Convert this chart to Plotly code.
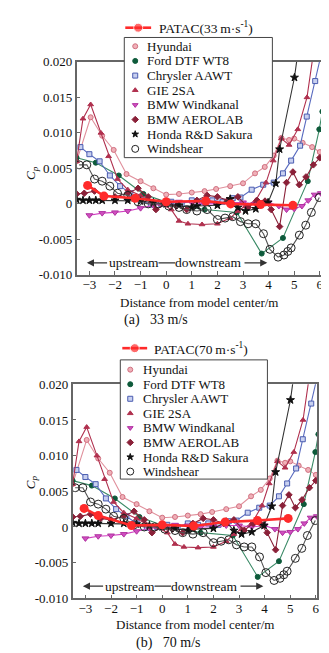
import plotly.graph_objects as go

W, H = 329, 653

# ---------------- data ----------------
patac_a_x = [-3.07, -2.43, -1.21, 0.0, 1.55, 2.52, 3.69, 4.95]
patac_a_y = [0.0026, 0.0011, 0.0008, 0.0003, 0.0004, 0.0, -0.0001, -0.0002]
patac_b_x = [-3.05, -2.5, -1.2, 0.0, 1.23, 2.46, 3.72, 4.92]
patac_b_y = [0.0026, 0.0016, 0.0002, 0.0003, 0.00014, 0.0007, 0.0009, 0.0012]

hyundai_x = [-3.5, -2.95, -2.5, -2.05, -1.55, -1.0, -0.5, 0.0, 0.5, 1.0, 1.5, 1.95, 2.5, 3.0, 3.47, 3.85, 4.2, 4.5, 4.8, 5.0, 5.33, 5.7, 6.0]
hyundai_y = [0.006, 0.0122, 0.0096, 0.0076, 0.0042, 0.0032, 0.0022, 0.0013, 0.0014, 0.0016, 0.0018, 0.0021, 0.0025, 0.0029, 0.0043, 0.0052, 0.0068, 0.0093, 0.009, 0.0092, 0.0086, 0.008, 0.0073]

ford_x = [-3.5, -2.75, -1.85, -0.89, 0.2, 1.5, 2.76, 3.73, 4.56, 5.53, 5.98, 6.1]
ford_y = [0.0065, 0.0058, 0.004, 0.0014, 0.0, -0.0008, -0.0012, -0.007, -0.0048, 0.0032, 0.0105, 0.013]

chrysler_x = [-3.35, -3.0, -2.6, -2.2, -1.8, -1.4, -1.0, -0.6, -0.2, 0.2, 0.6, 1.0, 1.4, 1.8, 2.2, 2.6, 2.9, 3.34, 3.79, 4.2, 4.56, 4.88, 5.23, 5.49, 5.82, 6.05]
chrysler_y = [0.008, 0.007, 0.006, 0.004, 0.0025, 0.0015, 0.0005, -0.0001, 0.0, 0.0003, 0.0, 0.0005, 0.0003, 0.0005, 0.0003, 0.0008, 0.0009, 0.002, 0.0027, 0.003, 0.0043, 0.0061, 0.0082, 0.0123, 0.0173, 0.021]

gie_x = [-3.5, -3.25, -2.95, -2.55, -2.25, -1.9, -1.5, -1.0, -0.6, -0.2, 0.2, 0.5, 0.85, 1.4, 2.0, 2.5, 2.8, 3.1, 3.5, 3.9, 4.18, 4.5, 4.8, 5.14, 5.5, 5.72]
gie_y = [0.006, 0.012, 0.014, 0.010, 0.0067, 0.0035, 0.002, 0.0012, 0.0003, 0.0, -0.0008, -0.0024, -0.0028, -0.0029, -0.0028, -0.002, -0.001, -0.0003, 0.0005, 0.003, 0.0061, 0.0092, 0.0083, 0.0105, 0.015, 0.0205]

windkanal_x = [-3.0, -2.5, -2.0, -1.5, -1.0, -0.5, 0.0, 0.5, 1.0, 1.5, 2.0, 2.5, 3.0, 3.5, 4.0, 4.4, 4.7, 5.0, 5.3, 5.55, 5.8, 6.04]
windkanal_y = [-0.0016, -0.0013, -0.0012, -0.001, -0.0006, -0.0002, 0.0, 0.0003, 0.0002, 0.0, 0.0, 0.0002, 0.0002, 0.0, 0.0002, -0.0003, -0.0008, -0.0007, -0.0003, 0.0005, 0.0013, 0.0015]

aerolab_x = [-3.5, -3.2, -2.8, -2.4, -2.0, -1.5, -1.1, -0.7, -0.4, 0.0, 0.4, 0.8, 1.2, 1.6, 2.0, 2.4, 2.8, 3.2, 3.55, 3.86, 4.1, 4.43, 4.7, 4.95, 5.2, 5.46, 5.75, 6.0]
aerolab_y = [0.0014, 0.0015, 0.0018, 0.0012, 0.001, 0.0015, 0.0022, 0.001, -0.0008, 0.0, -0.0003, -0.0008, 0.0005, 0.0012, 0.001, 0.0005, 0.001, -0.0005, 0.0005, 0.0004, -0.0008, -0.0032, 0.003, 0.0045, 0.0027, 0.0038, 0.0055, 0.0065]

honda_x = [-3.5, -3.25, -3.0, -2.75, -2.5, -2.0, -1.5, -1.0, -0.5, 0.0, 0.5, 1.0, 1.2, 2.0, 2.5, 2.8, 3.1, 3.5, 3.98, 4.28, 4.43, 5.01, 5.15]
honda_y = [0.0006, 0.0005, 0.0005, 0.0005, 0.0005, 0.0005, 0.0005, 0.0004, 0.0002, 0.0, -0.0002, -0.0005, -0.0003, -0.0002, 0.0007, -0.0005, -0.001, -0.0007, 0.0002, 0.0029, 0.0077, 0.0178, 0.0215]

windshear_x = [-3.4, -3.1, -2.8, -2.5, -2.2, -1.9, -1.5, -1.1, -0.7, -0.3, 0.1, 0.5, 0.8, 1.2, 1.6, 2.0, 2.3, 2.6, 2.9, 3.2, 3.5, 3.8, 4.05, 4.37, 4.6, 4.75, 4.88, 5.2, 5.45, 5.67, 5.98]
windshear_y = [0.0055, 0.0055, 0.0035, 0.0032, 0.0025, 0.0015, 0.0012, 0.0003, 0.0, 0.0, -0.0003, -0.0005, -0.0008, -0.001, -0.0008, -0.0022, -0.002, -0.0018, -0.0025, -0.0028, -0.0028, -0.0042, -0.0064, -0.0075, -0.0072, -0.0067, -0.0062, -0.0044, -0.003, -0.0012, 0.0009]

x_ticks = [-3, -2, -1, 0, 1, 2, 3, 4, 5, 6]
y_ticks = [-0.010, -0.005, 0.0, 0.005, 0.010, 0.015, 0.020]
y_ticktext = ["-0.010", "-0.005", "0", "0.005", "0.010", "0.015", "0.020"]

series_names = ["Hyundai", "Ford DTF WT8", "Chrysler AAWT", "GIE 2SA",
                "BMW Windkanal", "BMW AEROLAB", "Honda R&D Sakura", "Windshear"]
series_x = [hyundai_x, ford_x, chrysler_x, gie_x, windkanal_x, aerolab_x, honda_x, windshear_x]
series_y = [hyundai_y, ford_y, chrysler_y, gie_y, windkanal_y, aerolab_y, honda_y, windshear_y]
# style: line colour, symbol, fill, outline, size
series_style = [
    ("#e0909c", "circle", "#f0b0b8", "#d07080", 5),
    ("#3a8a66", "circle", "#0d5a3a", "#0d5a3a", 5),
    ("#5a6cc0", "square", "#c8d0f0", "#4a5cb0", 5),
    ("#b0304e", "triangle-up", "#b0304e", "#b0304e", 5),
    ("#d040c0", "triangle-down", "#d050c0", "#b030a0", 6),
    ("#8a2038", "diamond", "#8a2038", "#8a2038", 5),
    ("#333333", "star", "#111111", "#111111", 6),
    ("#555555", "circle-open", "#222222", "#222222", 8),
]

SERIF = "Liberation Serif"
INK = "#111111"


def px_x(p):
    return p / W


def px_y(p):
    return 1 - p / H


fig = go.Figure()

panels = [
    dict(xa="x", ya="y", patac_x=patac_a_x, patac_y=patac_a_y, speed="33",
         box=(117, 266, 23, 146), row0=32, dy=15, mk_x=128, tx_x=138,
         pat=(118, 144, 13, 150)),
    dict(xa="x2", ya="y2", patac_x=patac_b_x, patac_y=patac_b_y, speed="70",
         box=(113, 261, 353, 475), row0=363, dy=14.9, mk_x=123, tx_x=134,
         pat=(115, 140, 341, 145)),
]

# data traces
for pnl in panels:
    for name, xs, ys, st in zip(series_names, series_x, series_y, series_style):
        lc, sym, mc, mlc, sz = st
        fig.add_trace(go.Scatter(
            x=xs, y=ys, mode="lines+markers", name=name, showlegend=False,
            xaxis=pnl["xa"], yaxis=pnl["ya"],
            line=dict(color=lc, width=1.1),
            marker=dict(symbol=sym, size=sz, color=mc, line=dict(color=mlc, width=1)),
        ))
    fig.add_trace(go.Scatter(
        x=pnl["patac_x"], y=pnl["patac_y"], mode="lines+markers",
        name="PATAC(" + pnl["speed"] + " m·s<sup>-1</sup>)", showlegend=False,
        xaxis=pnl["xa"], yaxis=pnl["ya"],
        line=dict(color="#ff2a2a", width=2.6),
        marker=dict(symbol="circle", size=9, color="#ff2a2a"),
    ))

# legend drawn on a hidden full-page overlay (pixel coordinates)
annotations = []
for pnl in panels:
    l, r, t, b = pnl["box"]
    fig.add_trace(go.Scatter(
        x=[l, r, r, l, l], y=[t, t, b, b, t], mode="lines", fill="toself",
        fillcolor="white", line=dict(color="#444444", width=1),
        xaxis="x3", yaxis="y3", showlegend=False, hoverinfo="skip",
    ))
    for i, (name, st) in enumerate(zip(series_names, series_style)):
        lc, sym, mc, mlc, sz = st
        yy = pnl["row0"] + i * pnl["dy"]
        fig.add_trace(go.Scatter(
            x=[pnl["mk_x"]], y=[yy], mode="markers", xaxis="x3", yaxis="y3",
            showlegend=False, hoverinfo="skip",
            marker=dict(symbol=sym, size=max(sz - 1, 5), color=mc, line=dict(color=mlc, width=1)),
        ))
        annotations.append(dict(x=pnl["tx_x"], y=yy, xref="x3", yref="y3", text=name,
                                showarrow=False, xanchor="left", yanchor="middle",
                                font=dict(family=SERIF, size=13, color=INK)))
    x0, x1, yp, tx = pnl["pat"]
    fig.add_trace(go.Scatter(
        x=[x0, (x0 + x1) / 2, x1], y=[yp, yp, yp], mode="lines+markers",
        xaxis="x3", yaxis="y3", showlegend=False, hoverinfo="skip",
        line=dict(color="#ff2a2a", width=2.6),
        marker=dict(size=[0, 9, 0], color="#ff2a2a"),
    ))
    annotations.append(dict(x=tx, y=yp, xref="x3", yref="y3",
                            text="PATAC(" + pnl["speed"] + "\u2009m·s<sup>-1</sup>)",
                            showarrow=False, xanchor="left", yanchor="middle",
                            font=dict(family=SERIF, size=13.5, color=INK)))

axis_common = dict(
    showline=True, mirror=True, linecolor="#666666", linewidth=1.5,
    ticks="inside", ticklen=4, tickcolor="#666666", showgrid=False, zeroline=False,
    tickfont=dict(family=SERIF, size=13, color=INK),
)

geo = [
    dict(l=69, r=315, t=48, b=266),
    dict(l=65, r=311, t=378, b=597),
]

layout = dict(
    width=W, height=H, margin=dict(l=0, r=0, t=0, b=0),
    paper_bgcolor="white", plot_bgcolor="rgba(0,0,0,0)",
    font=dict(family=SERIF, size=13, color=INK), showlegend=False,
)
for i, g in enumerate(geo):
    sfx = "" if i == 0 else "2"
    layout["xaxis" + sfx] = dict(
        axis_common, domain=[px_x(g["l"]), px_x(g["r"])], range=[-3.5, 6.05],
        tickvals=x_ticks, anchor="y" + sfx, ticklabelstandoff=-3,
    )
    layout["yaxis" + sfx] = dict(
        axis_common, domain=[px_y(g["b"]), px_y(g["t"])], range=[-0.010, 0.020],
        tickvals=y_ticks, ticktext=y_ticktext, anchor="x" + sfx,
    )
layout["xaxis3"] = dict(domain=[0, 1], range=[0, W], visible=False, anchor="y3", fixedrange=True)
layout["yaxis3"] = dict(domain=[0, 1], range=[H, 0], visible=False, anchor="x3", fixedrange=True)

fig.update_layout(**layout)

shapes = []
captions = ["(a)\u00a0\u00a0\u00a033 m/s", "(b)\u00a0\u00a0\u00a070 m/s"]
title_y = [294, 624]
cap_y = [312, 643]
cap_x = [149, 161]
cp_pos = [(13, 152), (13, 487)]
for i, g in enumerate(geo):
    sfx = "" if i == 0 else "2"
    xr, yr = "x" + sfx, "y" + sfx
    cx = (g["l"] + g["r"]) / 2
    annotations.append(dict(x=px_x(cx), y=px_y(title_y[i]), xref="paper", yref="paper",
                            text="Distance from model center/m", showarrow=False,
                            font=dict(family=SERIF, size=13, color=INK), yanchor="middle"))
    annotations.append(dict(x=px_x(cap_x[i]), y=px_y(cap_y[i]), xref="paper", yref="paper",
                            text=captions[i], showarrow=False,
                            font=dict(family=SERIF, size=14, color=INK), yanchor="middle"))
    annotations.append(dict(x=px_x(cp_pos[i][0]), y=px_y(cp_pos[i][1]), xref="paper", yref="paper",
                            text="<i>C</i><sub><i>p</i></sub>", showarrow=False, textangle=-90,
                            font=dict(family=SERIF, size=13, color=INK)))
    yarrow = -0.0083
    annotations.append(dict(x=-1.25, y=yarrow, xref=xr, yref=yr, text="upstream", showarrow=False,
                            font=dict(family=SERIF, size=13.5, color=INK)))
    annotations.append(dict(x=1.62, y=yarrow, xref=xr, yref=yr, text="downstream", showarrow=False,
                            font=dict(family=SERIF, size=13.5, color=INK)))
    annotations.append(dict(x=-3.1, y=yarrow, ax=-2.25, ay=yarrow, xref=xr, yref=yr, axref=xr, ayref=yr,
                            text="", showarrow=True, arrowhead=2, arrowsize=1.1, arrowwidth=1.3,
                            arrowcolor="#333333"))
    annotations.append(dict(x=3.95, y=yarrow, ax=3.0, ay=yarrow, xref=xr, yref=yr, axref=xr, ayref=yr,
                            text="", showarrow=True, arrowhead=2, arrowsize=1.1, arrowwidth=1.3,
                            arrowcolor="#333333"))
    shapes.append(dict(type="line", xref=xr, yref=yr, x0=-0.3, x1=0.35, y0=yarrow, y1=yarrow,
                       line=dict(color="#333333", width=1.3)))

fig.update_layout(annotations=annotations, shapes=shapes)

fig.write_html("out.html")
